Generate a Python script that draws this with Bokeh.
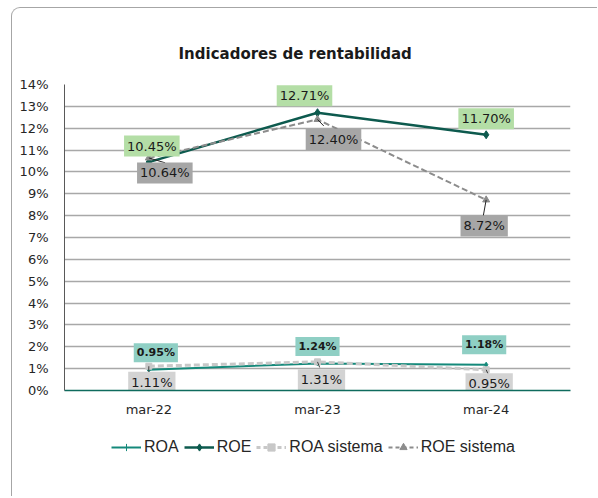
from bokeh.plotting import figure
from bokeh.layouts import column
from bokeh.models import Range1d, FixedTicker, Legend, LegendItem
from bokeh.core.properties import value
from bokeh.embed import file_html
from bokeh.resources import INLINE

# ---- data ----
periods = ["mar-22", "mar-23", "mar-24"]
roa = [0.95, 1.24, 1.18]
roe = [10.45, 12.71, 11.70]
roa_sis = [1.11, 1.31, 0.95]
roe_sis = [10.64, 12.40, 8.72]
y_ticks = list(range(0, 15))
title_text = "Indicadores de rentabilidad"
series_names = ["ROA", "ROE", "ROA sistema", "ROE sistema"]

# ---- styles ----
C_ROA = "#14897A"
C_ROE = "#0D5A4E"
C_ROA_S = "#C8C8C8"
C_ROE_S = "#8C8C8C"
FONT = "DejaVu Sans"

p = figure(width=585, height=430, x_range=periods, y_range=Range1d(0, 14),
           output_backend="svg", toolbar_location=None,
           min_border_left=52, min_border_right=27, min_border_top=76,
           min_border_bottom=48, outline_line_color=None)
p.background_fill_color = "white"
p.border_fill_alpha = 0

# title
p.title.text = title_text
p.title.align = "left"
p.title.offset = 114
p.title.standoff = 44
p.title.text_font = FONT
p.title.text_font_size = "15px"
p.title.text_font_style = "bold"
p.title.text_color = "#1A1A1A"

# axes
p.yaxis.ticker = FixedTicker(ticks=y_ticks)
p.yaxis.major_label_overrides = {t: f"{t}%" for t in y_ticks}
p.yaxis.major_tick_line_color = None
p.yaxis.minor_tick_line_color = None
p.yaxis.axis_line_color = "#595959"
p.yaxis.major_label_text_font = FONT
p.yaxis.major_label_text_font_size = "13px"
p.yaxis.major_label_text_color = "#262626"
p.yaxis.major_label_standoff = 10

p.xaxis.major_tick_line_color = None
p.xaxis.axis_line_color = "#0F6B5E"
p.xaxis.axis_line_width = 1.5
p.xaxis.major_label_text_font = FONT
p.xaxis.major_label_text_font_size = "13px"
p.xaxis.major_label_text_color = "#262626"
p.xaxis.major_label_standoff = 5

p.xgrid.grid_line_color = None
p.ygrid.grid_line_color = "#A8A8A8"
p.ygrid.grid_line_width = 1.5

# series
p.line(periods, roa, line_color=C_ROA, line_width=2)
p.scatter(periods, roa, marker="diamond", size=5, color=C_ROA)
p.line(periods, roe, line_color=C_ROE, line_width=2.5)
p.scatter(periods, roe, marker="diamond", size=8, color=C_ROE)
p.line(periods, roa_sis, line_color=C_ROA_S, line_width=3, line_dash="6 3")
p.scatter(periods, roa_sis, marker="square", size=6, color=C_ROA_S)
p.line(periods, roe_sis, line_color=C_ROE_S, line_width=2, line_dash="6 3")
p.scatter(periods, roe_sis, marker="triangle", size=7, color=C_ROE_S)

# leader lines (screen lengths / angles)
p.ray(periods, roe_sis, length=[17, 9, 16], length_units="screen",
      angle=[-0.29, -0.8, -1.75], line_color="#262626", line_width=1)
p.ray(periods, roa_sis, length=[6, 6, 8], length_units="screen",
      angle=[-1.6, -1.2, -1.15], line_color="#404040", line_width=1)

# data labels
def labels(vals, xo, yo, bg, size, style):
    p.text(periods, vals, text=[f"{v:.2f}%" for v in vals],
           x_offset=xo, y_offset=yo, text_align="center",
           text_baseline="middle", text_font=value(FONT),
           text_font_size=size, text_font_style=style, text_color="#1A1A1A",
           background_fill_color=bg, padding=3)

labels(roe, [3, -13, 0], [-16, -17, -16], "#B4DEA6", "13px", "normal")
labels(roe_sis, [16, 16, -2], [15, 20, 26], "#A6A6A6", "13px", "normal")
labels(roa, [7, 0, -2], [-17, -17, -20], "#8FCFC4", "11px", "bold")
labels(roa_sis, [3, 4, 3], [16, 18, 14], "#D3D3D3", "13px", "normal")

# legend in its own strip
p2 = figure(width=585, height=58, output_backend="svg", toolbar_location=None,
            x_range=Range1d(0, 1), y_range=Range1d(0, 1),
            x_axis_location=None, y_axis_location=None, min_border=0,
            outline_line_color=None)
p2.border_fill_alpha = 0
p2.grid.grid_line_color = None
styles = [
    dict(c=C_ROA, w=2, d="solid", m="cross", s=6),
    dict(c=C_ROE, w=2.5, d="solid", m="diamond", s=8),
    dict(c=C_ROA_S, w=3, d="4 3", m="square", s=7),
    dict(c=C_ROE_S, w=2, d="4 3", m="triangle", s=7),
]
items = []
for name, st in zip(series_names, styles):
    r1 = p2.line([-5, -4], [-5, -5], line_color=st["c"], line_width=st["w"],
                 line_dash=st["d"])
    r2 = p2.scatter([-5], [-5], marker=st["m"], size=st["s"], color=st["c"])
    items.append(LegendItem(label=name, renderers=[r1, r2]))
legend = Legend(items=items, orientation="horizontal", location=(47, 40),
                glyph_width=30, glyph_height=18, label_standoff=3, spacing=5,
                padding=0, margin=0, border_line_color=None,
                background_fill_alpha=0, label_text_font="Liberation Sans",
                label_text_font_size="16px", label_text_color="#262626")
p2.add_layout(legend)

layout = column(p, p2, styles={
    "border-left": "1px solid #A6A6A6",
    "border-top": "1px solid #A6A6A6",
    "border-top-left-radius": "9px",
    "margin-left": "11px",
    "margin-top": "7px",
})

open("out.html", "w").write(file_html(layout, INLINE))
